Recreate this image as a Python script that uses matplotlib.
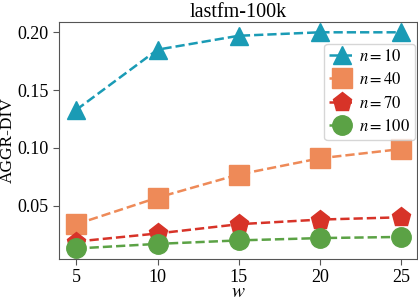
import matplotlib
matplotlib.use('Agg')
import matplotlib.pyplot as plt

w = [5, 10, 15, 20, 25]
n10 = [0.133, 0.185, 0.197, 0.200, 0.200]
n40 = [0.034, 0.057, 0.077, 0.091, 0.099]
n70 = [0.019, 0.026, 0.034, 0.038, 0.040]
n100 = [0.013, 0.017, 0.020, 0.022, 0.023]

plt.rcParams['font.family'] = 'Liberation Serif'
plt.rcParams['mathtext.fontset'] = 'stix'

fig, ax = plt.subplots(figsize=(4.18, 3.0), dpi=100)

ax.plot(w, n10, '--', color='#1a9bb5', marker='^', markersize=13.5, lw=1.8, label='$n=10$')
ax.plot(w, n40, '--', color='#ee8a58', marker='s', markersize=14, lw=1.8, label='$n=40$')
ax.plot(w, n70, '--', color='#d73328', marker='p', markersize=14, lw=1.8, label='$n=70$')
ax.plot(w, n100, '--', color='#5ba245', marker='o', markersize=14, lw=1.8, label='$n=100$')

ax.set_xlim(3.9, 26)
ax.set_ylim(0.004, 0.209)
ax.set_xticks(w)
ax.set_yticks([0.05, 0.10, 0.15, 0.20])
ax.tick_params(labelsize=13, length=4, pad=3, color='#555555')
for s in ax.spines.values():
    s.set_color('#555555')
ax.set_title('lastfm-100k', fontsize=14.5, pad=3)
ax.set_xlabel('$w$', fontsize=14, labelpad=-1)
ax.set_ylabel('AGGR-DIV', fontsize=12.5)
ax.yaxis.set_label_coords(-0.118, 0.5)
ax.legend(loc='upper right', bbox_to_anchor=(1.0, 0.915), fontsize=12,
          handlelength=1.5, handletextpad=0.3, borderpad=0.3, labelspacing=0.45,
          borderaxespad=0.1)

plt.subplots_adjust(left=0.14, right=0.998, top=0.927, bottom=0.137)
plt.savefig('out.png')
